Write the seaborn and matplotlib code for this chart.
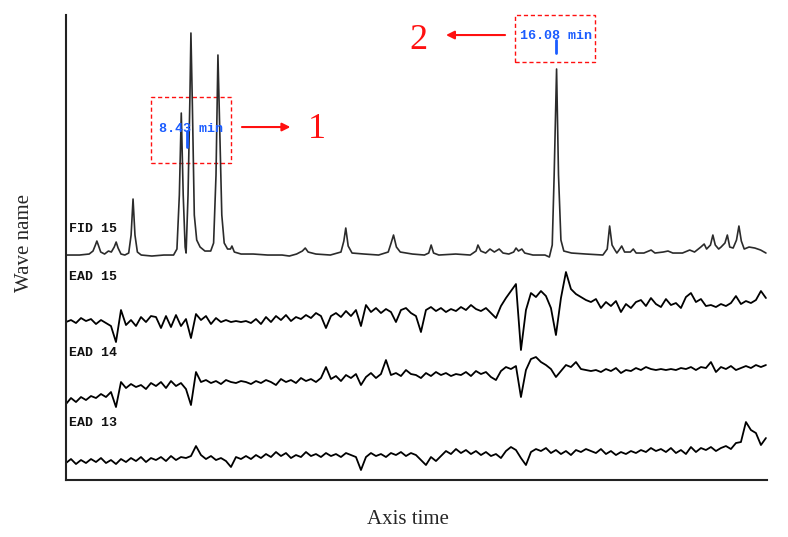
import numpy as np
import pandas as pd
import matplotlib
matplotlib.use("Agg")
import matplotlib.pyplot as plt
from matplotlib.patches import Rectangle
import seaborn as sns

# --- data (time in min, response in px-like units) ---
fid_time = [5.92, 6.20, 6.40, 6.48, 6.53, 6.56, 6.59, 6.64, 6.72, 6.80, 6.86, 6.92, 6.96, 7.00,
            7.06, 7.14, 7.22, 7.27, 7.31, 7.35, 7.40, 7.48, 7.70, 7.95, 8.15, 8.22, 8.27, 8.31,
            8.35, 8.39, 8.41, 8.45, 8.49, 8.51, 8.54, 8.58, 8.63, 8.70, 8.80, 8.92, 8.98, 9.03,
            9.07, 9.11, 9.15, 9.20, 9.27, 9.33, 9.36, 9.41, 9.55, 9.80, 10.10, 10.40, 10.55, 10.70,
            10.82, 10.88, 10.94, 11.10, 11.40, 11.62, 11.68, 11.72, 11.77, 11.85, 12.10, 12.40,
            12.60, 12.66, 12.71, 12.77, 12.85, 13.10, 13.35, 13.44, 13.49, 13.54, 13.65, 14.00,
            14.30, 14.42, 14.46, 14.52, 14.62, 14.71, 14.80, 14.90, 14.98, 15.10, 15.20, 15.25,
            15.30, 15.37, 15.43, 15.60, 15.85, 15.94, 16.00, 16.04, 16.09, 16.13, 16.18, 16.24,
            16.40, 16.70, 17.05, 17.14, 17.19, 17.24, 17.30, 17.34, 17.40, 17.44, 17.50, 17.62,
            17.68, 17.74, 17.90, 18.05, 18.13, 18.30, 18.40, 18.50, 18.70, 18.85, 18.95, 19.08,
            19.15, 19.20, 19.28, 19.33, 19.38, 19.45, 19.50, 19.58, 19.63, 19.68, 19.75, 19.82,
            19.87, 19.92, 19.98, 20.08, 20.20, 20.32, 20.43]
fid_signal = [0, 0, 1, 4, 10, 14, 10, 3, 1, 4, 3, 8, 13, 7,
              1, 0, 2, 20, 56, 20, 3, 0, -1, 0, 0, 6, 60, 142,
              60, 8, 2, 60, 160, 222, 150, 40, 15, 8, 4, 4, 12, 80,
              200, 120, 40, 12, 6, 6, 9, 3, 1, 1, 0, 0, -1, 1,
              4, 7, 3, 1, 0, 3, 14, 27, 9, 2, 1, 0,
              3, 12, 20, 8, 3, 1, 0, 2, 10, 2, 0, 1,
              0, 4, 10, 4, 2, 6, 3, 6, 2, 1, 3, 7,
              4, 6, 2, 0, 0, -2, 10, 80, 186, 80, 15, 4,
              2, 1, 0, 6, 29, 10, 5, 2, 6, 9, 3, 3,
              6, 2, 2, 5, 2, 3, 4, 2, 2, 5, 3, 8,
              11, 6, 10, 20, 10, 6, 8, 12, 20, 8, 7, 15,
              29, 14, 6, 8, 7, 5, 2]

# EAD recordings sampled on a regular grid
ead_time = np.linspace(5.92, 20.43, 141)
ead15 = [0, 2, -1, 4, 1, 3, -2, 2, -1, -4, -20, 12, -3, 2, -4, 5, 0, 6, 5, -6,
         6, -5, 7, -4, 3, -16, 8, 2, 6, -2, 4, 0, 2, 0, 1, 0, 1, -1, 3, -2,
         5, 0, 6, 2, 7, 1, 5, 3, 7, 4, 9, 6, -6, 6, 9, 5, 11, 6, 12, -4,
         17, 10, 14, 9, 13, 10, 0, 12, 14, 9, 6, -10, 12, 15, 11, 14, 10, 13, 11, 15,
         12, 17, 13, 11, 14, 9, 4, 16, 24, 31, 38, -28, 12, 29, 25, 31, 26, 14, -13, 24,
         50, 33, 28, 25, 22, 20, 23, 14, 20, 16, 21, 10, 18, 14, 20, 22, 16, 24, 18, 15,
         23, 17, 19, 14, 25, 29, 20, 23, 16, 17, 15, 18, 16, 19, 26, 18, 21, 19, 22, 31,
         24]
ead14 = [-4, 2, -2, 3, 0, 4, 2, 6, 3, 8, -7, 18, 12, 16, 13, 15, 11, 17, 14, 18,
         12, 19, 14, 17, 11, -5, 28, 18, 20, 17, 19, 16, 20, 18, 17, 19, 18, 16, 19, 17,
         20, 18, 15, 21, 18, 20, 17, 22, 19, 21, 18, 22, 33, 21, 24, 19, 25, 22, 26, 15,
         23, 27, 22, 26, 40, 25, 27, 24, 30, 26, 25, 22, 27, 24, 28, 25, 27, 24, 26, 25,
         28, 24, 29, 26, 28, 23, 20, 29, 33, 31, 34, 3, 30, 41, 43, 38, 35, 31, 23, 29,
         35, 33, 38, 31, 30, 29, 30, 28, 31, 29, 32, 27, 30, 29, 32, 30, 33, 31, 30, 31,
         30, 31, 30, 32, 31, 33, 30, 33, 32, 38, 28, 33, 31, 34, 30, 32, 34, 32, 35, 33,
         35]
ead13 = [-3, 1, -4, 0, -3, 1, -2, 2, -3, 0, -4, 1, -2, 2, -1, 3, -2, 2, 0, 3,
         -1, 4, 0, 3, 2, 4, 14, 5, 1, 4, 0, 2, -1, -7, 3, 1, 4, 1, 5, 2,
         6, 3, 8, 4, 7, 2, 5, 3, 8, 4, 6, 3, 7, 4, 6, 3, 7, 5, 3, -10,
         3, 7, 4, 6, 3, 7, 5, 8, 4, 7, 5, 0, -5, 3, -1, 4, 9, 6, 11, 7,
         10, 6, 9, 5, 8, 4, 6, 2, 9, 13, 10, 2, -5, 8, 11, 9, 12, 7, 10, 6,
         9, 5, 10, 8, 11, 9, 7, 11, 6, 9, 5, 8, 6, 9, 7, 10, 8, 12, 9, 11,
         8, 12, 7, 10, 6, 13, 8, 12, 10, 13, 9, 12, 14, 11, 17, 18, 38, 30, 27, 15,
         22]

trace_names = ["FID 15", "EAD 15", "EAD 14", "EAD 13"]
trace_offsets = [225, 158, 80, 20]
label_heights = [251, 203, 127, 57]

marks = [8.43, 16.08]
mark_labels = ["8.43 min", "16.08 min"]

sns.set_theme(style="white")
plt.rcParams['font.family'] = ['DejaVu Sans']

fig = plt.figure(figsize=(7.88, 5.37), dpi=100)
ax = fig.add_axes([0.0838, 0.1061, 0.8896, 0.8659])

sns.lineplot(x=fid_time, y=np.array(fid_signal) + trace_offsets[0], ax=ax,
             color="#2b2b2b", linewidth=1.2, sort=False, estimator=None)
for vals, off in zip([ead15, ead14, ead13], trace_offsets[1:]):
    sns.lineplot(x=ead_time, y=np.array(vals) + off, ax=ax,
                 color="black", linewidth=1.3, sort=False, estimator=None)

for name, h in zip(trace_names, label_heights):
    ax.text(5.98, h, name, fontsize=9.5, family="Liberation Mono", fontweight="bold",
            va="center", ha="left", color="#111111")

ax.set_xlim(5.921, 20.453)
ax.set_ylim(0, 465)
ax.set_xticks([])
ax.set_yticks([])
for side in ["top", "right"]:
    ax.spines[side].set_visible(False)
for side in ["left", "bottom"]:
    ax.spines[side].set_color("#222222")
    ax.spines[side].set_linewidth(1.5)

red = "#ff1010"
blue = "#1a5cff"

# retention time markers
ax.text(8.51, 351, mark_labels[0], fontsize=9.6, family="Liberation Mono",
        fontweight="bold", color=blue, ha="center", va="center")
ax.plot([marks[0], marks[0]], [333, 349], color=blue, lw=2)
ax.add_patch(Rectangle((7.683, 317), 9.342 - 7.683, 383 - 317, fill=False,
                       edgecolor=red, lw=1, linestyle=(0, (3, 2))))
ax.annotate("", xy=(10.63, 353), xytext=(9.51, 353),
            arrowprops=dict(arrowstyle="-|>", color=red, lw=1.5, mutation_scale=12))
ax.text(11.13, 351, "1", fontsize=26, family="Liberation Serif", color=red,
        ha="center", va="center")

ax.text(16.08, 444, mark_labels[1], fontsize=9.6, family="Liberation Mono",
        fontweight="bold", color=blue, ha="center", va="center", clip_on=False)
ax.plot([marks[1], marks[1]], [427, 440], color=blue, lw=2)
ax.add_patch(Rectangle((15.229, 418), 16.887 - 15.229, 465 - 418, fill=False,
                       edgecolor=red, lw=1, linestyle=(0, (3, 2)), clip_on=False))
ax.annotate("", xy=(13.74, 445), xytext=(15.08, 445),
            arrowprops=dict(arrowstyle="-|>", color=red, lw=1.5, mutation_scale=12))
ax.text(13.22, 440, "2", fontsize=26, family="Liberation Serif", color=red,
        ha="center", va="center")

fig.text(0.5178, 0.0317, "Axis time", fontsize=15, family="Liberation Serif",
         ha="center", va="center")
fig.text(0.0317, 0.5475, "Wave name", fontsize=15, family="Liberation Serif",
         ha="center", va="center", rotation=90)

fig.savefig("out.png", dpi=100, facecolor="white")
